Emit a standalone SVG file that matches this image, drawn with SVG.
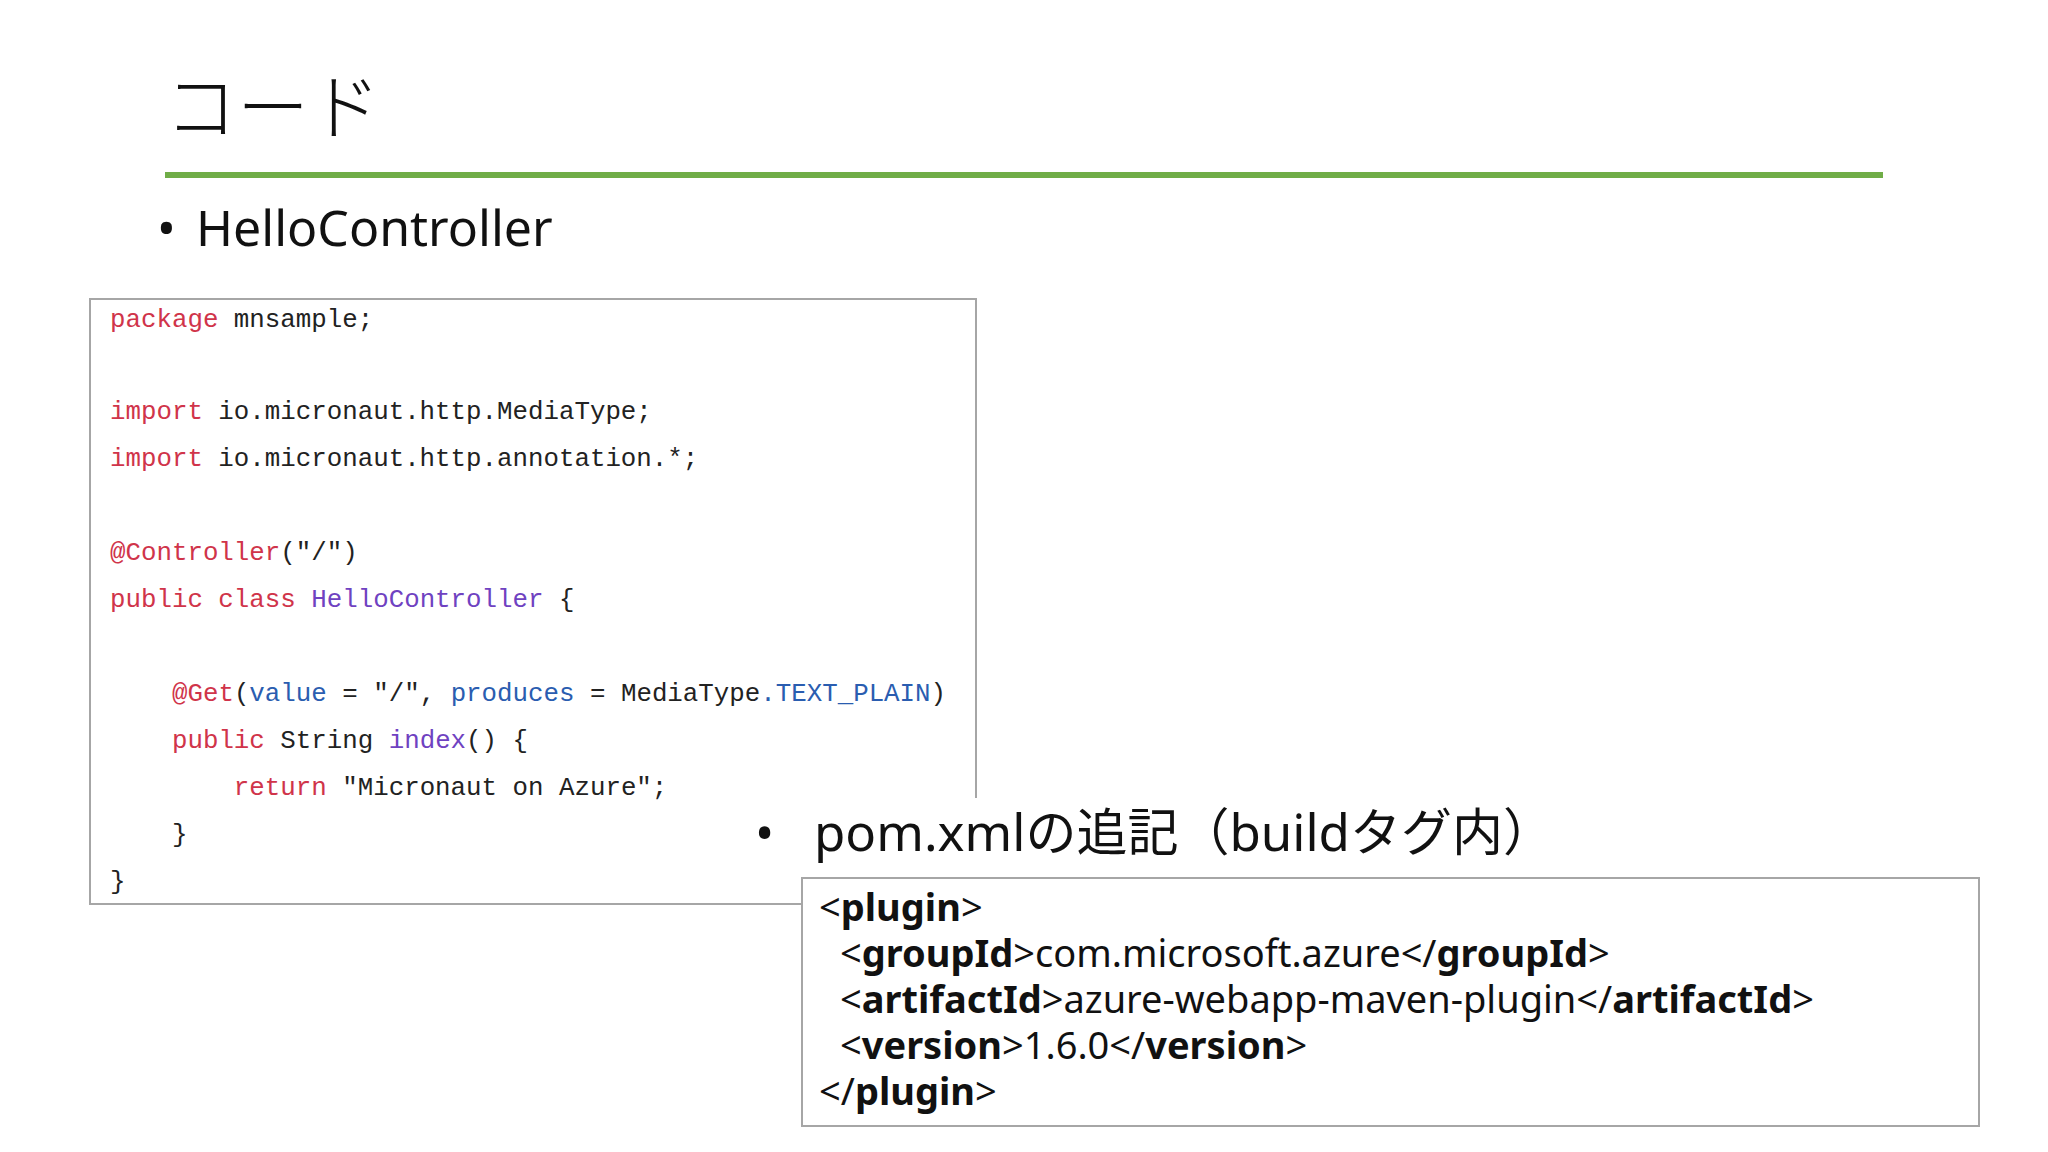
<svg xmlns="http://www.w3.org/2000/svg" width="2048" height="1152" viewBox="0 0 2048 1152">
<style>
.code{font-family:"Liberation Mono",monospace;font-size:25.8px;fill:#222;white-space:pre}
.k{fill:#d0344a}.b{fill:#2a5db0}.p{fill:#6f42c1}
.t{font-family:"Noto Sans","Noto Sans CJK JP",sans-serif;fill:#111}
.x{font-family:"Noto Sans",sans-serif;font-size:38px;fill:#111}
.x tspan.bd{font-weight:bold}
</style>
<rect width="2048" height="1152" fill="#fff"/>
<g id="title">
<text class="t" x="165" y="133" font-size="72" font-weight="300">コード</text>
<rect x="165" y="172" width="1718" height="6" fill="#70ad47"/>
</g>
<g id="bullet1">
<text class="t" x="157" y="246" font-size="50">•</text>
<text class="t" x="196" y="246" font-size="50">HelloController</text>
</g>
<g id="codebox">
<rect x="90" y="299" width="886" height="605" fill="#fff" stroke="#a6a6a6" stroke-width="2"/>
<text class="code" x="110" y="327"><tspan class="k">package</tspan> mnsample;</text>
<text class="code" x="110" y="419"><tspan class="k">import</tspan> io.micronaut.http.MediaType;</text>
<text class="code" x="110" y="466"><tspan class="k">import</tspan> io.micronaut.http.annotation.*;</text>
<text class="code" x="110" y="560"><tspan class="k">@Controller</tspan>("/")</text>
<text class="code" x="110" y="607"><tspan class="k">public class</tspan> <tspan class="p">HelloController</tspan> {</text>
<text class="code" x="110" y="701">    <tspan class="k">@Get</tspan>(<tspan class="b">value</tspan> = "/", <tspan class="b">produces</tspan> = MediaType<tspan class="b">.TEXT_PLAIN</tspan>)</text>
<text class="code" x="110" y="748">    <tspan class="k">public</tspan> String <tspan class="p">index</tspan>() {</text>
<text class="code" x="110" y="795">        <tspan class="k">return</tspan> "Micronaut on Azure";</text>
<text class="code" x="110" y="842">    }</text>
<text class="code" x="110" y="889">}</text>
</g>
<g id="bullet2">
<rect x="750" y="798" width="1240" height="80" fill="#fff"/>
<text class="t" x="755" y="851" font-size="51">•</text>
<text class="t" x="814" y="851" font-size="51">pom.xmlの追記（buildタグ内）</text>
</g>
<g id="pombox">
<rect x="802" y="878" width="1177" height="248" fill="#fff" stroke="#a6a6a6" stroke-width="2"/>
<text class="x" x="819" y="921">&lt;<tspan class="bd">plugin</tspan>&gt;</text>
<text class="x" x="840" y="967">&lt;<tspan class="bd">groupId</tspan>&gt;com.microsoft.azure&lt;/<tspan class="bd">groupId</tspan>&gt;</text>
<text class="x" x="840" y="1013">&lt;<tspan class="bd">artifactId</tspan>&gt;azure-webapp-maven-plugin&lt;/<tspan class="bd">artifactId</tspan>&gt;</text>
<text class="x" x="840" y="1059">&lt;<tspan class="bd">version</tspan>&gt;1.6.0&lt;/<tspan class="bd">version</tspan>&gt;</text>
<text class="x" x="819" y="1105">&lt;/<tspan class="bd">plugin</tspan>&gt;</text>
</g>
</svg>
